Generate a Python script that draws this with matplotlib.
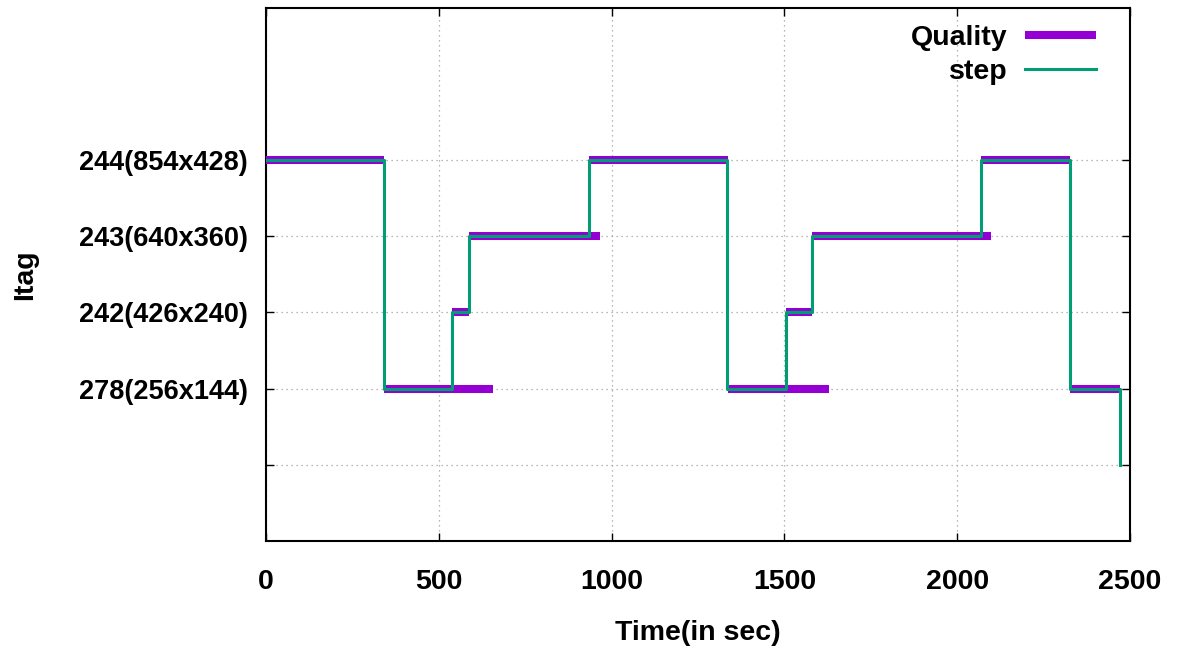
import numpy as np
import matplotlib
matplotlib.use('Agg')
import matplotlib.pyplot as plt

plt.rcParams['font.family'] = ['Liberation Sans', 'DejaVu Sans']
plt.rcParams['font.weight'] = 'bold'

# Quality segments: start time, end time, level index
q_start = [0, 341, 539, 588, 935, 1336, 1505, 1581, 2069, 2325]
q_end = [341, 656, 588, 967, 1336, 1630, 1581, 2099, 2326, 2470]
q_level = [4, 1, 2, 3, 4, 1, 2, 3, 4, 1]

# step line (steps-post)
step_t = [0, 340, 539, 588, 935, 1334, 1505, 1581, 2069, 2325, 2470]
step_lvl = [4, 1, 2, 3, 4, 1, 2, 3, 4, 1, 0]

ytick_pos = [0, 1, 2, 3, 4]
ytick_lab = ['', '278(256x144)', '242(426x240)', '243(640x360)', '244(854x428)']
xtick_pos = [0, 500, 1000, 1500, 2000, 2500]

purple = '#9400d3'
green = '#009e73'

fig = plt.figure(figsize=(11.78, 6.48), dpi=100)
ax = fig.add_axes([0.2258, 0.1651, 0.9593 - 0.2258, 0.988 - 0.1651])

for i in range(len(q_start)):
    ax.plot([q_start[i], q_end[i]], [q_level[i], q_level[i]], color=purple,
            lw=5.8, solid_capstyle='butt', label='Quality' if i == 0 else None, zorder=3)
ax.plot(step_t, step_lvl, drawstyle='steps-post', color=green, lw=2.2, label='step', zorder=4)

ax.set_xlim(0, 2500)
ax.set_ylim(-1, 6)
ax.set_xticks(xtick_pos)
ax.set_yticks(ytick_pos)
ax.set_yticklabels(ytick_lab)
ax.tick_params(direction='in', top=True, right=True, length=6, width=1)
ax.tick_params(axis='x', pad=20, labelsize=20.5)
ax.tick_params(axis='y', pad=13, labelsize=19.5)
ax.grid(True, color='#a0a0a0', linestyle=(0, (1, 3)), lw=0.9)
for s in ax.spines.values():
    s.set_linewidth(1.5)

ax.set_xlabel('Time(in sec)', fontsize=20.5, fontweight='bold', labelpad=18)
ax.set_ylabel('Itag', fontsize=20.5, fontweight='bold')
ax.yaxis.set_label_coords(-0.264, 0.5)

leg = ax.legend(loc='upper right', frameon=False, markerfirst=False, fontsize=20.5,
                handlelength=2.5, borderaxespad=0.2, labelspacing=0.3,
                handletextpad=0.6, bbox_to_anchor=(0.98, 1.0))

fig.savefig('out.png', dpi=100)
